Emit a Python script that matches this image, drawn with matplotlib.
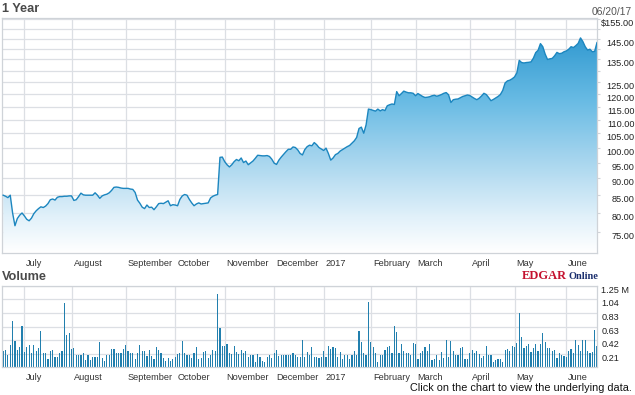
import matplotlib
matplotlib.use('Agg')
import matplotlib.pyplot as plt
import numpy as np
from matplotlib.colors import LinearSegmentedColormap
from matplotlib.ticker import NullLocator, NullFormatter
from matplotlib.transforms import ScaledTranslation

plt.rcParams['font.family'] = ['Liberation Sans', 'DejaVu Sans']

# daily closes, one per trading day 06/20/16 .. 06/20/17
price = [
    85.0, 84.7, 84.3, 85.0, 80.0, 76.6, 78.5, 79.4, 80.0, 79.2,
    78.3, 77.9, 78.6, 79.8, 80.6, 81.2, 81.7, 81.5, 81.9, 82.6,
    83.7, 83.9, 83.6, 84.4, 84.6, 84.6, 84.7, 84.7, 84.8, 84.8,
    83.5, 83.7, 84.6, 85.6, 85.1, 85.0, 85.0, 85.0, 85.0, 85.7,
    85.0, 84.1, 84.8, 85.1, 85.3, 85.7, 86.4, 87.3, 87.4, 87.3,
    87.1, 87.0, 87.0, 87.0, 86.8, 86.7, 85.8, 83.6, 82.7, 81.6,
    81.2, 82.2, 81.5, 81.6, 80.9, 81.7, 82.6, 82.7, 82.6, 83.0,
    83.4, 82.0, 82.3, 82.2, 82.0, 83.8, 84.8, 85.2, 85.0, 83.8,
    82.8, 82.0, 82.5, 82.8, 82.5, 82.6, 82.7, 82.8, 84.2, 84.7,
    85.0, 85.2, 96.7, 96.8, 95.3, 94.3, 93.6, 94.3, 95.3, 96.0,
    95.6, 96.5, 95.0, 95.5, 94.3, 94.9, 95.5, 96.4, 97.4, 97.3,
    97.2, 97.2, 97.3, 97.0, 96.1, 94.8, 94.4, 95.8, 96.8, 97.7,
    98.6, 99.4, 99.4, 100.2, 100.0, 99.2, 98.0, 97.5, 99.3, 100.3,
    100.8, 100.6, 101.7, 101.0, 100.0, 99.5, 99.0, 99.8, 98.0, 95.8,
    96.5, 97.6, 98.0, 98.8, 99.3, 99.8, 100.3, 100.7, 101.5, 102.3,
    103.5, 106.7, 107.2, 105.0, 108.0, 114.0, 113.8, 113.5, 113.2, 114.0,
    113.3, 113.8, 113.4, 115.3, 115.7, 116.0, 115.8, 121.0, 119.3, 120.2,
    121.2, 120.8, 120.5, 120.5, 120.3, 119.3, 120.2, 119.6, 119.0, 118.6,
    118.7, 118.9, 119.3, 119.5, 119.1, 119.4, 119.8, 120.3, 120.6, 119.7,
    116.6, 117.7, 117.9, 118.0, 118.5, 119.0, 119.3, 119.6, 119.4, 118.8,
    118.2, 117.7, 118.3, 119.2, 120.3, 119.8, 118.6, 117.3, 117.8, 118.4,
    119.0, 119.8, 121.5, 124.6, 125.5, 125.8, 126.4, 127.2, 129.0, 134.6,
    133.6, 133.4, 133.6, 133.7, 133.9, 135.6, 138.2, 139.3, 142.5, 141.0,
    137.5, 135.0, 135.3, 135.5, 136.7, 138.3, 137.7, 137.9, 138.6, 139.0,
    139.8, 141.0, 140.6, 141.5, 142.6, 145.3, 143.5, 141.0, 139.4, 139.8,
    138.6, 138.8, 143.0,
]

# daily volume, millions of shares
volume = [
    0.24, 0.26, 0.18, 0.34, 0.71, 0.40, 0.26, 0.31, 0.63, 0.23,
    0.31, 0.34, 0.22, 0.34, 0.24, 0.29, 0.55, 0.21, 0.22, 0.13,
    0.24, 0.27, 0.15, 0.15, 0.22, 0.24, 0.98, 0.49, 0.52, 0.28,
    0.29, 0.19, 0.19, 0.19, 0.22, 0.11, 0.18, 0.11, 0.15, 0.15,
    0.15, 0.38, 0.14, 0.10, 0.19, 0.18, 0.28, 0.28, 0.21, 0.22,
    0.22, 0.28, 0.34, 0.24, 0.21, 0.21, 0.12, 0.22, 0.34, 0.24,
    0.25, 0.17, 0.27, 0.17, 0.12, 0.31, 0.27, 0.21, 0.14, 0.09,
    0.14, 0.09, 0.13, 0.15, 0.20, 0.22, 0.40, 0.21, 0.19, 0.18,
    0.14, 0.21, 0.31, 0.12, 0.14, 0.23, 0.25, 0.14, 0.19, 0.26,
    0.24, 1.13, 0.60, 0.33, 0.33, 0.36, 0.22, 0.20, 0.33, 0.23,
    0.20, 0.27, 0.21, 0.24, 0.15, 0.19, 0.19, 0.08, 0.20, 0.15,
    0.10, 0.07, 0.15, 0.18, 0.14, 0.21, 0.27, 0.17, 0.18, 0.18,
    0.19, 0.18, 0.18, 0.22, 0.19, 0.15,
    0.15, 0.41, 0.15, 0.23, 0.18, 0.31, 0.15, 0.15, 0.14, 0.15,
    0.24, 0.15, 0.33, 0.28, 0.31, 0.30, 0.15, 0.23, 0.12, 0.18,
    0.18, 0.12, 0.19, 0.24, 0.19, 0.56, 0.39, 0.21, 0.19, 1.01,
    0.39, 0.31, 0.21, 0.07, 0.18, 0.18, 0.26, 0.31, 0.33, 0.21,
    0.64, 0.54, 0.21, 0.36, 0.25, 0.22, 0.21, 0.19, 0.37, 0.36,
    0.12, 0.21, 0.24, 0.31, 0.24, 0.36, 0.11, 0.13, 0.19, 0.11,
    0.23, 0.14, 0.41, 0.15, 0.40, 0.24, 0.18, 0.18, 0.29, 0.31,
    0.12, 0.12, 0.21, 0.27, 0.22, 0.24, 0.20, 0.14, 0.17, 0.33,
    0.18, 0.19, 0.07, 0.11, 0.13, 0.13, 0.08, 0.27, 0.28, 0.25,
    0.33, 0.31, 0.37, 0.84, 0.46, 0.30, 0.32, 0.36, 0.23, 0.29,
    0.36, 0.24, 0.36, 0.52, 0.39, 0.29, 0.30, 0.25, 0.26, 0.14,
    0.21, 0.18, 0.17, 0.15, 0.25, 0.28, 0.22, 0.41, 0.34, 0.25,
    0.41, 0.41, 0.25, 0.21, 0.23, 0.57, 0.33,
]

# first trading day of each month (index into the daily lists)
month_days = [9, 29, 52, 73, 94, 115, 136, 156, 175, 198, 217, 239]
month_labels = ['July', 'August', 'September', 'October', 'November', 'December',
                '2017', 'February', 'March', 'April', 'May', 'June']

price_ticks = [75, 80, 85, 90, 95, 100, 105, 110, 115, 120, 125, 130, 135, 140, 145, 150, 155]
price_labels = ['75.00', '80.00', '85.00', '90.00', '95.00', '100.00', '105.00', '110.00',
                '115.00', '120.00', '125.00', '', '135.00', '', '145.00', '', '$155.00']

vol_ticks = [0.2083, 0.4167, 0.625, 0.8333, 1.0417, 1.25]
vol_labels = ['0.21', '0.42', '0.63', '0.83', '1.04', '1.25 M']

W, H = 635, 395
GRID = '#dcdfe4'
EDGE = '#cfd3d8'
TXT = '#333333'
FS = 6.6


def box(l, t, r, b):
    return [l / W, 1 - b / H, (r - l) / W, (b - t) / H]


fig = plt.figure(figsize=(W / 100, H / 100), dpi=100)
ax = fig.add_axes(box(2, 18, 597, 253))
ax2 = fig.add_axes(box(2, 286, 597, 367))

days = np.arange(len(price))

# price panel: gradient fill clipped under the line
ax.set_yscale('log')
cmap = LinearSegmentedColormap.from_list(
    'fill', [(0, '#ffffff'), (0.15, '#e2f1fa'), (0.4, '#a6d5ee'),
             (0.65, '#68bbe4'), (1, '#2290cb')])
grad = np.linspace(1, 0, 256).reshape(-1, 1)
im = ax.imshow(grad, extent=[0, 1, 0, 1], transform=ax.transAxes,
               aspect='auto', cmap=cmap, vmin=0, vmax=1, zorder=1)
poly = ax.fill(np.r_[days, days[-1], days[0]], np.r_[price, 60, 60],
               facecolor='none', edgecolor='none')[0]
im.set_clip_path(poly)
ax.plot(days, price, color='#1c86bf', lw=1.0, zorder=3)

ax.set_xlim(-0.5, 252)
ax.set_ylim(69.8, 155.5)

# volume panel
ax2.bar(days, volume, width=0.5, color='#217fae', zorder=2)
ax2.set_xlim(-0.5, 252)
ax2.set_ylim(0, 1.25)

off = ScaledTranslation(2 / 100, -10 / 100, fig.dpi_scale_trans)
for a in (ax, ax2):
    a.set_xticks(month_days)
    a.tick_params(axis='x', length=0, labelbottom=False)
    a.grid(True, color=GRID, lw=0.9)
    a.set_axisbelow(True)
    a.yaxis.tick_right()
    for s in a.spines.values():
        s.set_color(EDGE)
        s.set_linewidth(0.9)
    for d, lab in zip(month_days, month_labels):
        a.text(d, 0, lab, transform=a.get_xaxis_transform() + off,
               ha='left', va='center', fontsize=FS, color=TXT)

ax.set_yticks(price_ticks)
ax.set_yticklabels(price_labels)
ax.yaxis.set_minor_locator(NullLocator())
ax.yaxis.set_minor_formatter(NullFormatter())
ax.tick_params(axis='y', length=2, color=EDGE, pad=25, labelsize=FS, labelcolor='#222222')
for t in ax.get_yticklabels():
    t.set_ha('right')
    t.set_va('top')

ax2.set_yticks(vol_ticks)
ax2.set_yticklabels(vol_labels)
ax2.tick_params(axis='y', length=0, pad=3, labelsize=FS, labelcolor='#222222')
for t in ax2.get_yticklabels():
    t.set_va('top')

# header / footer text
fig.text(2 / W, 1 - 9 / H, '1 Year', fontsize=9.2, fontweight='bold',
         color='#4a4a4a', ha='left', va='center')
fig.text(632 / W, 1 - 12 / H, '06/20/17', fontsize=7.4, color='#555555',
         ha='right', va='center')
fig.text(2 / W, 1 - 277 / H, 'Volume', fontsize=9.2, fontweight='bold',
         color='#4a4a4a', ha='left', va='center')
fig.text(522 / W, 1 - 279 / H, 'EDGAR', family='Liberation Serif', fontweight='bold',
         fontsize=9, color='#c4122f', ha='left', va='baseline')
fig.text(598 / W, 1 - 279 / H, 'Online', family='Liberation Serif', fontweight='bold',
         fontsize=7.5, color='#1b2f6e', ha='right', va='baseline')
fig.text(632 / W, 1 - 388 / H, 'Click on the chart to view the underlying data.',
         fontsize=7.8, color='#111111', ha='right', va='center')

fig.savefig('out.png', dpi=100)
